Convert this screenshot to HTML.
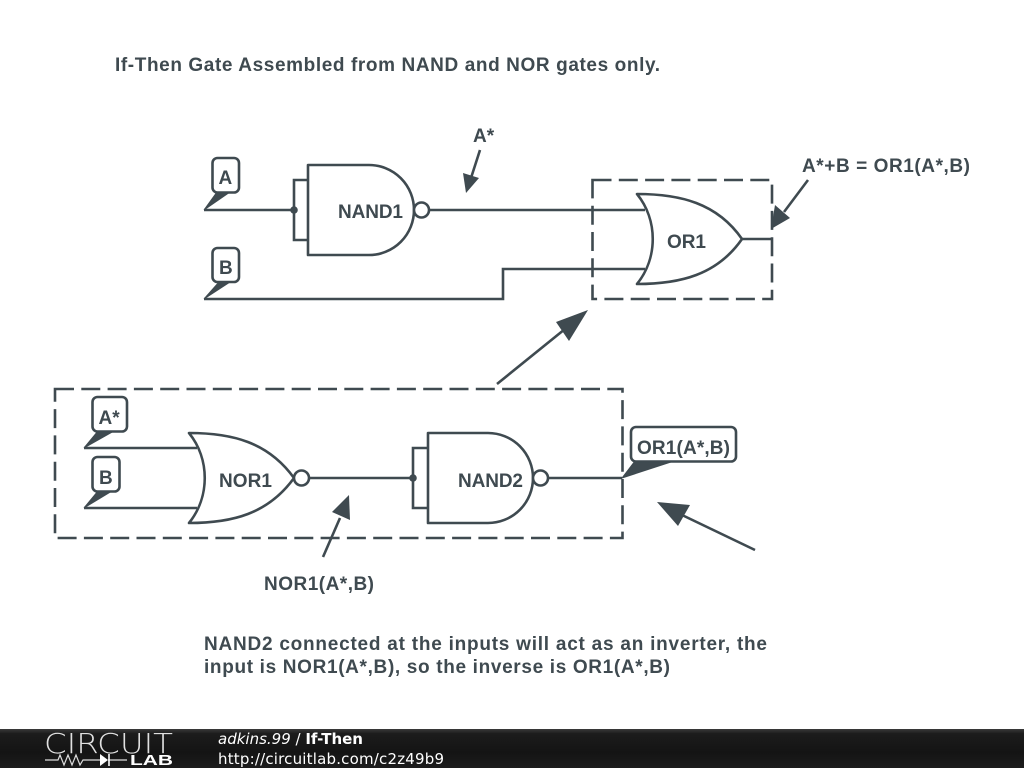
<!DOCTYPE html>
<html>
<head>
<meta charset="utf-8">
<title>If-Then</title>
<style>
html,body{margin:0;padding:0;background:#fff;width:1024px;height:768px;overflow:hidden}
svg{display:block}
.w{fill:none;stroke:#3f4a50;stroke-width:2.6}
.d{fill:none;stroke:#3f4a50;stroke-width:2.6;stroke-dasharray:19 7.300}
.g{fill:#fff;stroke:#3f4a50;stroke-width:2.6;stroke-linejoin:round}
.t{font-family:"Liberation Sans",sans-serif;font-weight:bold;font-size:19px;fill:#3f4a50}
.f{font-family:"DejaVu Sans",sans-serif;font-size:15px;fill:#fff}
</style>
</head>
<body>
<svg width="1024" height="768" viewBox="0 0 1024 768" xmlns="http://www.w3.org/2000/svg">
<defs>
<linearGradient id="bar" x1="0" y1="0" x2="0" y2="1">
<stop offset="0" stop-color="#3a3a3a"/><stop offset="0.12" stop-color="#1c1c1c"/><stop offset="0.6" stop-color="#141414"/><stop offset="1" stop-color="#1c1c1c"/>
</linearGradient>
</defs>
<rect width="1024" height="768" fill="#fff"/>

<text class="t" x="115" y="71" textLength="545" lengthAdjust="spacing">If-Then Gate Assembled from NAND and NOR gates only.</text>

<!-- top wires -->
<path class="w" d="M204 210H294M429 210H645M204 299H503V269H645M742 239H772"/>
<path class="w" d="M308 180H294V240H308"/>
<circle cx="294" cy="210" r="3.8" fill="#3f4a50"/>
<!-- NAND1 -->
<path class="g" d="M308 165H369A45 45 0 0 1 369 255H308Z"/>
<circle class="g" cx="421.5" cy="210" r="7.5"/>
<!-- OR1 -->
<path class="g" d="M637 194C680 194 717 203 742 239C717 275 680 284 637 284C658 258 658 220 637 194Z"/>
<rect class="d" x="592.5" y="180" width="179.5" height="119"/>

<!-- bottom wires -->
<path class="w" d="M84 448H197M84 508H197M309 478H413M548 478H622"/>
<path class="w" d="M428 448H413V508H428"/>
<circle cx="413" cy="478" r="3.8" fill="#3f4a50"/>
<!-- NOR1 -->
<path class="g" d="M189 433C232 433 268 442 294 478C268 514 232 523 189 523C210 497 210 459 189 433Z"/>
<circle class="g" cx="301.5" cy="478" r="7.5"/>
<!-- NAND2 -->
<path class="g" d="M428 433H488A45 45 0 0 1 488 523H428Z"/>
<circle class="g" cx="540.5" cy="478" r="7.5"/>
<rect class="d" x="55" y="389" width="567.5" height="149"/>

<!-- label tails -->
<g fill="#3f4a50" stroke="#3f4a50" stroke-width="1">
<path d="M204 210L217 192H230Z"/>
<path d="M204 299L219 282H230Z"/>
<path d="M84 448L98 431H114Z"/>
<path d="M84 508L98 491H112Z"/>
<path d="M622 478L635 461H674Z"/>
</g>
<!-- labels -->
<rect class="g" x="212.500" y="158" width="26.500" height="34.500" rx="5"/>
<rect class="g" x="212.500" y="248" width="26.500" height="34" rx="5"/>
<rect class="g" x="92.500" y="397" width="34.500" height="34.500" rx="5"/>
<rect class="g" x="92.500" y="457" width="27" height="34.500" rx="5"/>
<rect class="g" x="631" y="427" width="105" height="34.500" rx="5"/>
<text class="t" x="218.500" y="184">A</text>
<text class="t" x="219" y="274">B</text>
<text class="t" x="98.500" y="424">A*</text>
<text class="t" x="99" y="484">B</text>
<text class="t" x="637" y="454" textLength="93">OR1(A*,B)</text>
<text class="t" x="338" y="218" textLength="65">NAND1</text>
<text class="t" x="667" y="248" textLength="39">OR1</text>
<text class="t" x="219" y="487" textLength="53">NOR1</text>
<text class="t" x="458" y="487" textLength="65">NAND2</text>
<text class="t" x="473" y="142">A*</text>
<text class="t" x="802" y="172" textLength="168">A*+B = OR1(A*,B)</text>
<text class="t" x="264" y="590" textLength="110">NOR1(A*,B)</text>
<text class="t" x="204" y="650" textLength="563">NAND2 connected at the inputs will act as an inverter, the</text>
<text class="t" x="204" y="673" textLength="466">input is NOR1(A*,B), so the inverse is OR1(A*,B)</text>

<!-- arrows -->
<g class="w"><path d="M480 150L471 178"/><path d="M808 180L784 212"/><path d="M497 384L565 329"/><path d="M755 550L682 515"/><path d="M323 557L340 518"/></g>
<g fill="#3f4a50">
<path d="M466 193L463 173L479 178Z"/>
<path d="M771 229L775 205L790 218Z"/>
<path d="M588 310L569 341L556 322Z"/>
<path d="M657 502L690 505L678 526Z"/>
<path d="M349 495L350 520L332 512Z"/>
</g>

<!-- footer -->
<rect x="0" y="729" width="1024" height="39" fill="url(#bar)"/>
<text x="44" y="753" font-family="'DejaVu Sans ExtraLight','DejaVu Sans',sans-serif" font-weight="200" font-size="28" textLength="129" lengthAdjust="spacingAndGlyphs" fill="#e0e0e0">CIRCUIT</text>
<path d="M45 760H58L60 755L64 765L68 755L72 765L76 755L80 765L83 760H100M108 760H127" fill="none" stroke="#ddd" stroke-width="1.200"/>
<path d="M100 754V766L108 760Z" fill="#fff"/>
<path d="M109 754V766" stroke="#fff" stroke-width="1.600"/>
<text x="130" y="765" font-family="Liberation Sans,sans-serif" font-weight="bold" font-size="14.500" textLength="43" lengthAdjust="spacingAndGlyphs" fill="#fff">LAB</text>
<text class="f" x="218" y="744"><tspan font-style="italic">adkins.99</tspan> / <tspan font-weight="bold">If-Then</tspan></text>
<text class="f" x="218" y="764" textLength="226">http://circuitlab.com/c2z49b9</text>
</svg>
</body>
</html>
